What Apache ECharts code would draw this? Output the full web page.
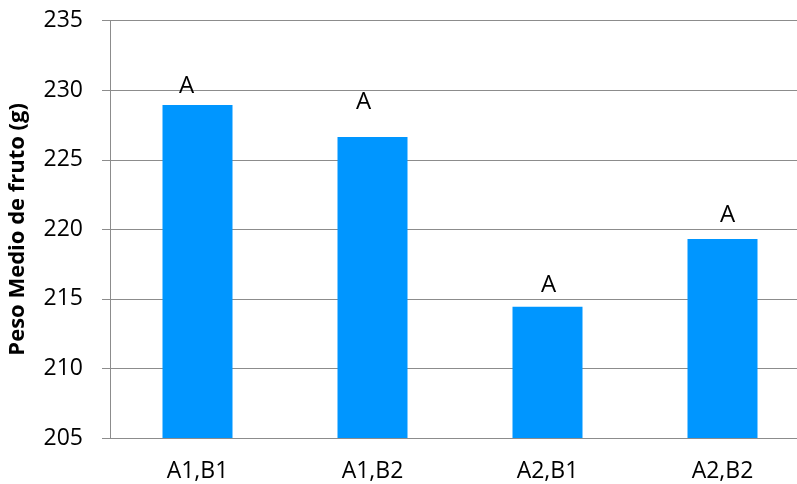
<!DOCTYPE html>
<html><head><meta charset="utf-8">
<script src="https://cdn.jsdelivr.net/npm/echarts@6/dist/echarts.min.js"></script>
<style>html,body{margin:0;padding:0;background:#fff}#c{width:797px;height:484px}</style>
</head><body><div id="c"></div>
<script>
const categories = ['A1,B1', 'A1,B2', 'A2,B1', 'A2,B2'];
const values = [228.94, 226.64, 214.44, 219.31];
const letters = ['A', 'A', 'A', 'A'];
const yTicks = [205, 210, 215, 220, 225, 230, 235];

// label placement (style only)
const labelOffsets = [[-11, -7], [-9, -23], [1, -10], [5, -12]];

const chart = echarts.init(document.getElementById('c'), null, {renderer: 'canvas'});
const font = 'Open Sans';
chart.setOption({
  animation: false,
  grid: {left: 110, right: -13, top: 20.7, bottom: 46, outerBoundsMode: 'none', containLabel: false},
  xAxis: {
    type: 'category',
    data: categories,
    axisLine: {lineStyle: {color: '#8c8c8c', width: 1}},
    axisTick: {show: false},
    axisLabel: {color: '#000', fontFamily: font, fontSize: 23, margin: 22}
  },
  yAxis: {
    type: 'value',
    min: yTicks[0],
    max: yTicks[yTicks.length - 1],
    interval: 5,
    name: 'Peso Medio de fruto (g)',
    nameLocation: 'middle',
    nameGap: 81,
    nameTextStyle: {color: '#000', fontFamily: font, fontSize: 22, fontWeight: 'bold'},
    axisLine: {show: true, lineStyle: {color: '#8c8c8c', width: 1}},
    axisTick: {show: true, length: 8, lineStyle: {color: '#8c8c8c'}},
    splitLine: {lineStyle: {color: '#8c8c8c', width: 1}},
    axisLabel: {color: '#000', fontFamily: font, fontSize: 23, margin: 27}
  },
  series: [{
    type: 'bar',
    barWidth: '40%',
    itemStyle: {color: '#0096FF'},
    data: values.map((v, i) => ({
      value: v,
      label: {
        show: true, position: 'top', distance: 0,
        offset: labelOffsets[i],
        formatter: letters[i],
        color: '#000', fontFamily: font, fontSize: 24
      }
    }))
  }]
});
</script></body></html>
